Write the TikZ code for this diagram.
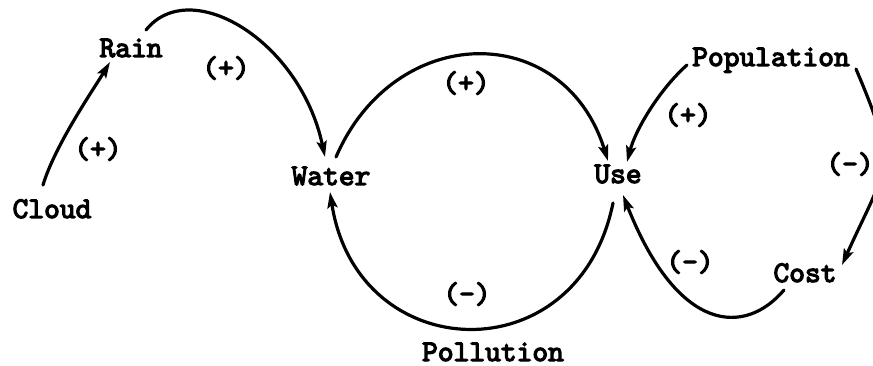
\documentclass[tikz,border=0pt]{standalone}
\usepackage{fontspec}
\newfontfamily\typew{lmmono10-regular}[Extension=.otf, FakeBold=4]
\usetikzlibrary{arrows.meta}
\begin{document}
\begin{tikzpicture}[x=1pt,y=-1pt,
  lbl/.style={font=\fontsize{30}{32}\selectfont\typew, inner sep=0pt, anchor=base},
  sgn/.style={font=\fontsize{30}{32}\selectfont\typew, inner sep=0pt},
  link/.style={line width=3.2pt, line cap=round, -{Stealth[length=16pt,width=10pt,inset=3pt]}}]
\useasboundingbox (0,0) rectangle (873,366);
% variables
\node[lbl] (Rain) at (131,57) {Rain};
\node[lbl] (Cloud) at (52,218) {Cloud};
\node[lbl] (Water) at (331,185) {Water};
\node[lbl] (Use) at (618,183) {Use};
\node[lbl] (Population) at (771,66) {Population};
\node[lbl] (Pollution) at (493,361) {Pollution};
\node[lbl] (Cost) at (805,282) {Cost};
% signs
\node[sgn] (s1) at (98,149) {(+)};
\node[sgn] (s2) at (226,68) {(+)};
\node[sgn] (s3) at (466,83) {(+)};
\node[sgn] (s4) at (467,294) {(-)};
\node[sgn] (s5) at (688,115) {(+)};
\node[sgn] (s6) at (850,164) {(-)};
\node[sgn] (s7) at (690,262) {(-)};
% links
\draw[link] ([shift={(-9,-33)}]Cloud.base) .. controls +(12,-40) and +(-15,25) .. ([shift={(-21,5)}]Rain.base);
\draw[link] ([shift={(15,-27)}]Rain.base) .. controls +(44,-55) and +(-25,-117) .. ([shift={(-6,-28)}]Water.base);
\draw[link] ([shift={(5,-28)}]Water.base) .. controls +(59,-136) and +(-44,-141) .. ([shift={(-10,-22)}]Use.base);
\draw[link] ([shift={(-5,20)}]Use.base) .. controls +(-35,173) and +(27,175) .. ([shift={(-1,7)}]Water.base);
\draw[link] ([shift={(-84,-1)}]Population.base) .. controls +(-26,23) and +(9,-34) .. ([shift={(9,-21)}]Use.base);
\draw[link] ([shift={(85,3)}]Population.base) .. controls +(43,101) and +(45,-100) .. ([shift={(37,-17)}]Cost.base);
\draw[link] ([shift={(-21,8)}]Cost.base) .. controls +(-39,46) and +(55,139) .. ([shift={(5,12)}]Use.base);
\end{tikzpicture}
\end{document}
